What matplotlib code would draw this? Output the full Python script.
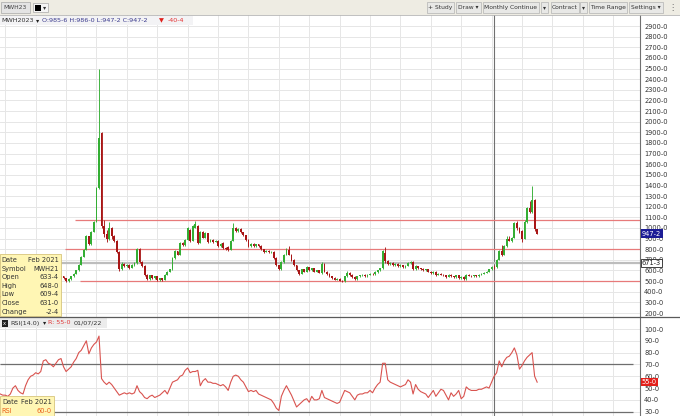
import numpy as np
import matplotlib.pyplot as plt
from matplotlib.patches import Rectangle
from matplotlib.lines import Line2D

W, H = 680, 416

# MWH monthly continuation, Nov 2004 .. Jul 2022 (month index 0 = Jan 2005)
first_month = -2
opens = [355, 352, 350, 345, 340, 355, 365, 360, 350, 345,
         355, 370, 380, 390, 395, 405, 400, 410, 440, 450,
         445, 450, 455, 490, 530, 545, 525, 500, 520, 545,
         570, 600, 656, 731, 797, 920, 845, 966, 1060, 1379,
         1895, 1016, 940, 900, 1000, 920, 880, 770, 610, 660,
         640, 655, 625, 650, 675, 800, 680, 640, 560, 520,
         555, 530, 545, 510, 525, 510, 560, 590, 610, 720,
         780, 750, 860, 840, 891, 985, 880, 1000, 1022, 860,
         966, 910, 950, 870, 890, 870, 880, 830, 860, 810,
         820, 797, 880, 1000, 970, 990, 960, 930, 890, 830,
         850, 830, 845, 830, 800, 775, 785, 770, 775, 720,
         650, 610, 680, 750, 790, 750, 700, 650, 600, 570,
         610, 590, 630, 600, 620, 590, 600, 575, 660, 590,
         570, 545, 530, 515, 520, 505, 500, 545, 580, 560,
         540, 520, 545, 555, 560, 545, 560, 570, 565, 585,
         600, 620, 760, 690, 660, 670, 650, 665, 640, 650,
         635, 645, 670, 680, 610, 640, 620, 615, 600, 610,
         590, 575, 590, 560, 570, 560, 555, 540, 560, 545,
         535, 555, 530, 540, 520, 560, 550, 545, 555, 545,
         560, 570, 580, 590, 610, 633.5, 631, 700, 780, 750,
         830, 900, 880, 910, 1050, 1000, 975, 900, 1060, 1190,
         1150, 1266, 985.75]
closes = [352, 350, 345, 340, 355, 365, 360, 350, 345, 355,
          370, 380, 390, 395, 405, 400, 410, 440, 450, 445,
          450, 455, 490, 530, 545, 525, 500, 520, 545, 570,
          600, 656, 731, 797, 920, 845, 966, 1060, 1379, 1848,
          1016, 940, 900, 1000, 920, 880, 770, 610, 660, 640,
          655, 625, 650, 670, 800, 680, 640, 560, 520, 555,
          530, 545, 510, 525, 510, 560, 590, 610, 720, 780,
          750, 860, 840, 891, 1000, 880, 1020, 1040, 860, 960,
          910, 950, 870, 890, 870, 880, 830, 850, 810, 800,
          790, 880, 1000, 970, 990, 960, 930, 890, 830, 850,
          830, 845, 830, 800, 775, 785, 770, 775, 720, 650,
          610, 680, 750, 790, 750, 700, 650, 600, 570, 610,
          590, 630, 600, 620, 590, 600, 580, 660, 590, 570,
          545, 530, 515, 520, 505, 500, 545, 580, 560, 540,
          520, 545, 555, 560, 545, 560, 570, 565, 585, 600,
          620, 780, 690, 660, 670, 650, 665, 640, 650, 635,
          645, 670, 680, 610, 640, 620, 615, 600, 610, 590,
          575, 590, 560, 570, 560, 555, 540, 560, 545, 535,
          555, 530, 540, 520, 560, 550, 545, 555, 545, 560,
          570, 580, 590, 610, 633.5, 631, 700, 780, 750, 830,
          900, 880, 910, 1050, 1000, 960, 900, 1060, 1190, 1150,
          1266, 988, 947.25]
highs = [360, 356, 358, 352, 360, 372, 370, 364, 356, 360,
         376, 386, 396, 402, 412, 410, 416, 448, 458, 456,
         458, 462, 496, 538, 552, 550, 530, 526, 550, 578,
         608, 662, 740, 806, 930, 928, 975, 1070, 1390, 2500,
         1905, 1078, 985, 1060, 1010, 930, 890, 780, 684, 670,
         664, 660, 658, 678, 815, 808, 688, 648, 566, 562,
         560, 552, 550, 532, 530, 566, 598, 618, 730, 790,
         786, 868, 870, 900, 1010, 992, 1030, 1065, 1030, 968,
         972, 958, 956, 898, 896, 888, 886, 858, 866, 818,
         826, 890, 1050, 1008, 998, 996, 966, 936, 896, 858,
         856, 852, 850, 836, 806, 792, 790, 782, 780, 726,
         656, 688, 758, 810, 828, 756, 706, 656, 606, 618,
         616, 638, 636, 628, 626, 608, 606, 684, 666, 596,
         576, 550, 536, 528, 526, 512, 552, 593, 586, 566,
         546, 552, 562, 568, 566, 566, 578, 576, 592, 608,
         628, 795, 825, 696, 678, 676, 672, 670, 658, 656,
         652, 678, 688, 686, 648, 646, 628, 620, 618, 616,
         596, 598, 596, 578, 576, 566, 560, 566, 566, 550,
         562, 560, 548, 546, 568, 566, 556, 562, 560, 566,
         578, 588, 598, 618, 640, 648, 708, 790, 840, 838,
         920, 922, 918, 1060, 1063, 1010, 985, 1078, 1200, 1250,
         1398, 1275, 986]
lows = [346, 345, 338, 334, 336, 350, 354, 344, 340, 340,
        350, 364, 374, 384, 390, 394, 395, 405, 432, 438,
        438, 444, 450, 485, 522, 518, 492, 495, 514, 540,
        565, 595, 650, 725, 790, 838, 840, 960, 1055, 1370,
        1000, 918, 872, 890, 900, 870, 760, 595, 600, 630,
        630, 618, 620, 644, 665, 672, 630, 550, 512, 515,
        524, 524, 505, 504, 502, 506, 555, 584, 605, 712,
        742, 745, 832, 835, 885, 870, 875, 995, 850, 855,
        902, 904, 862, 864, 862, 864, 822, 825, 802, 794,
        784, 792, 875, 962, 964, 952, 922, 882, 822, 824,
        822, 824, 824, 792, 768, 770, 764, 764, 712, 642,
        600, 604, 675, 744, 742, 692, 642, 592, 562, 565,
        584, 585, 594, 595, 584, 584, 572, 570, 584, 562,
        538, 522, 508, 510, 498, 492, 496, 540, 552, 532,
        512, 515, 540, 548, 538, 540, 554, 558, 560, 580,
        595, 615, 670, 652, 654, 644, 644, 634, 634, 628,
        628, 640, 664, 600, 604, 612, 608, 592, 594, 582,
        568, 570, 552, 554, 554, 548, 532, 535, 538, 528,
        530, 522, 524, 512, 515, 544, 538, 540, 538, 540,
        554, 565, 574, 585, 605, 609.5, 626, 695, 740, 745,
        825, 875, 872, 905, 985, 950, 872, 895, 1050, 1140,
        1141, 975, 947.25]
rsi = [45, 44, 44, 43, 45, 50, 52, 48, 46, 45,
       52, 57, 60, 61, 63, 62, 64, 73, 74, 71,
       70, 68, 71, 74, 75, 68, 64, 66, 68, 72,
       75, 80, 82, 86, 90, 79, 84, 87, 89, 94,
       58, 55, 53, 55, 53, 50, 47, 44, 45, 46,
       45, 46, 45, 46, 52, 47, 45, 42, 41, 43,
       44, 42, 43, 44, 46, 48, 45, 50, 55, 56,
       57, 60, 61, 65, 67, 63, 64, 64, 65, 52,
       56, 58, 55, 55, 54, 54, 53, 52, 53, 51,
       48, 55, 60, 61, 60, 57, 55, 51, 47, 48,
       47, 48, 45, 44, 43, 42, 41, 40, 37, 33,
       31, 43, 48, 52, 48, 44, 39, 34, 36, 38,
       40, 41, 38, 43, 40, 40, 41, 48, 42, 41,
       40, 39, 38, 37, 38, 43, 48, 47, 46, 43,
       40, 44, 45, 45, 46, 46, 48, 46, 50, 53,
       55, 71, 71, 57, 55, 54, 53, 52, 51, 52,
       53, 57, 55, 45, 53, 49, 47, 46, 45, 42,
       45, 48, 43, 46, 49, 48, 44, 40, 46, 43,
       45, 48, 41, 43, 51, 49, 48, 48, 48, 49,
       49, 50, 51, 50, 55, 60, 63, 73, 68, 73,
       76, 77, 80, 84, 78, 66, 69, 73, 76, 78,
       80, 60, 55]

cross_month = 193          # Feb 2021
level_prices = [1072, 806, 500]
level_from = [27.5, 23.6, 29.5]
grey_level = 671.375
last_close = 947.25
last_rsi = 55
price_ticks = list(range(200, 3000, 100))
rsi_ticks = list(range(30, 110, 10))
tip_rows = [("Date", "Feb 2021"), ("Symbol", "MWH21"), ("Open", "633-4"),
            ("High", "648-0"), ("Low", "609-4"), ("Close", "631-0"),
            ("Change", "-2-4")]

months = np.arange(len(closes)) + first_month
o = np.array(opens, float)
c = np.array(closes, float)
up = c >= o
cols = np.where(up, '#34ae34', '#a81616')

def fx(x):
    return x / W

def fy(y):
    return 1 - y / H

XL = (-2.09, 250.6)
fs = 4.8
plt.rcParams['font.family'] = 'DejaVu Sans'

fig = plt.figure(figsize=(W / 100, H / 100), dpi=100)
fig.patch.set_facecolor('white')

ax = fig.add_axes([0, fy(317), fx(640), (317 - 15) / H])
ax2 = fig.add_axes([0, 0, fx(640), 99 / H])

for a in (ax, ax2):
    a.set_xlim(*XL)
    a.set_xticks(np.arange(0, 252, 12))
    a.tick_params(axis='x', length=0, labelbottom=False)
    a.yaxis.tick_right()
    a.tick_params(axis='y', length=0, pad=3, labelsize=fs, labelcolor='#333333')
    a.grid(True, color='#e6e6e6', lw=0.7)
    a.set_axisbelow(True)
    for s in ('left', 'top', 'bottom'):
        a.spines[s].set_visible(False)
    a.spines['right'].set_color('#707070')
    a.spines['right'].set_linewidth(0.8)
    a.axvline(cross_month, color='#707070', lw=0.8, zorder=1)

ax.set_ylim(162.4, 3003.5)
ax.set_yticks(price_ticks)
ax.set_yticklabels([f"{v}-0" for v in price_ticks])

# levels
for p, m0 in zip(level_prices, level_from):
    ax.hlines(p, m0, XL[1], color='#e77a7a', lw=0.9, zorder=2)
ax.axhline(grey_level, color='#bdbdbd', lw=1.6, zorder=2)

# candles
ax.vlines(months, lows, highs, colors=cols, lw=0.65, zorder=3)
body = np.maximum(np.abs(c - o), 5)
ax.bar(months, body, bottom=np.minimum(o, c), width=0.72, color=cols, lw=0, zorder=3)

yt = ax.get_yaxis_transform()
ax.text(1.003, last_close, "947-2", transform=yt, fontsize=fs, color='white',
        va='center', ha='left', clip_on=False, zorder=10,
        bbox=dict(boxstyle='square,pad=0.2', fc='#1c1c96', ec='none'))
ax.text(1.003, grey_level, "671-3", transform=yt, fontsize=fs, color='#222222',
        va='center', ha='left', clip_on=False, zorder=10,
        bbox=dict(boxstyle='square,pad=0.2', fc='white', ec='#222222', lw=0.6))

# RSI panel
ax2.set_ylim(26.36, 110.16)
ax2.set_yticks(rsi_ticks)
ax2.set_yticklabels([f"{v}-0" for v in rsi_ticks])
ax2.hlines([70, 30], XL[0], XL[0] + (XL[1] - XL[0]) * 633 / 640,
           color='#6e6e6e', lw=0.9, zorder=2)
ax2.plot(months, rsi, color='#d9534f', lw=0.8, zorder=3)
yt2 = ax2.get_yaxis_transform()
ax2.text(1.003, last_rsi, "55-0", transform=yt2, fontsize=fs, color='white',
         va='center', ha='left', clip_on=False, zorder=10,
         bbox=dict(boxstyle='square,pad=0.2', fc='#e3201b', ec='none'))

# panel separator
fig.add_artist(Line2D([0, 1], [fy(317)] * 2, transform=fig.transFigure,
                      color='#5a5a5a', lw=0.9))

def box(x0, y0, x1, y1, fc, ec='none', lw=0.5):
    fig.add_artist(Rectangle((fx(x0), fy(y1)), (x1 - x0) / W, (y1 - y0) / H,
                             transform=fig.transFigure, fc=fc, ec=ec, lw=lw))

def txt(x, y, s, color='#333333', ha='left', size=fs, **kw):
    fig.text(fx(x), fy(y), s, color=color, ha=ha, va='center', fontsize=size, **kw)

# toolbar
box(0, 0, 680, 15, '#eeece3')
fig.add_artist(Line2D([0, 1], [fy(15)] * 2, transform=fig.transFigure,
                      color='#b5b5b5', lw=0.6))
box(1, 2, 30, 13, '#e4e4e4', '#a8a8a8')
txt(3, 7.5, "MWH23", size=4.3, color='#444444')
box(33, 3, 48, 12, '#f4f4f4', '#a8a8a8')
box(35, 4.5, 40.5, 10.5, 'black')
txt(44.5, 7.5, "▾", ha='center', size=4.5, color='#333333')
buttons = [("+ Study", 427, 454), ("Draw ▾", 456, 481), ("Monthly Continue", 483, 539),
           ("▾", 541, 548), ("Contract", 551, 579), ("▾", 580, 587),
           ("Time Range", 589, 627), ("Settings ▾", 629, 663)]
for label, x0, x1 in buttons:
    box(x0, 2, x1, 12.5, '#e8e8e6', '#b3b3b3')
    txt((x0 + x1) / 2, 7.3, label, ha='center', size=4.3, color='#333333')
txt(672, 7.5, "⋮", ha='center', size=6, color='#666666')

# header row of price panel
box(0, 15.5, 193, 25, '#f3f3f5')
txt(1, 20.5, "MWH2023", color='#333333', size=4.6)
txt(35.5, 20.5, "▾", color='#222222', size=4.6)
txt(41.5, 20.5, "O:985-6 H:986-0 L:947-2 C:947-2", color='#3b3b8e', size=4.6)
txt(158.5, 20.5, "▼", color='#e0201b', size=4.6)
txt(167.5, 20.5, "-40-4", color='#e53030', size=4.6)

# RSI header
box(0, 318, 107, 328, '#ececec')
box(1.5, 320, 8, 326.5, '#222222')
txt(4.75, 323.2, "x", ha='center', size=3.8, color='white')
txt(10, 323, "RSI(14.0)", color='#333333', size=4.6)
txt(42.5, 323, "▾", color='#222222', size=4.6)
txt(48, 323, "R: 55-0", color='#e03a3a', size=4.6)
txt(74, 323, "01/07/22", color='#333333', size=4.6)

# data tooltips
box(0, 254, 60.5, 316, '#fff6b4', '#d7c57c', 0.6)
for i, (lab, val) in enumerate(tip_rows):
    yy = 260 + i * 8.6
    txt(1.5, yy, lab, color='#333333')
    txt(58.5, yy, val, ha='right', color='#333333')
box(0, 396, 53.5, 416.5, '#fff6b4', '#d7c57c', 0.6)
txt(2.5, 402.5, "Date", color='#333333')
txt(52, 402.5, "Feb 2021", ha='right', color='#333333')
txt(1, 411, "RSI", color='#e8601c')
txt(52, 411, "60-0", ha='right', color='#e8601c')

fig.savefig('out.png', dpi=100, facecolor='white')
